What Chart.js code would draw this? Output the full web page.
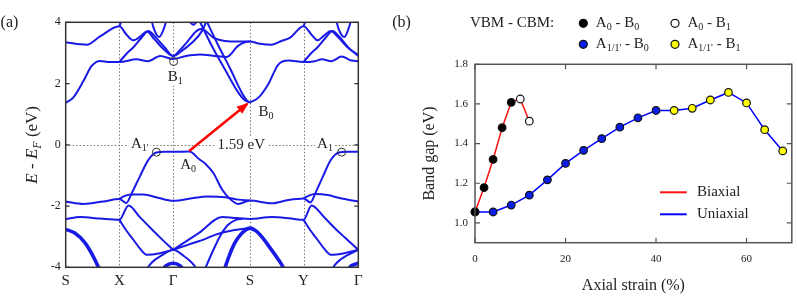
<!DOCTYPE html>
<html>
<head>
<meta charset="utf-8">
<script src="https://cdn.jsdelivr.net/npm/chart.js@4.4.0/dist/chart.umd.min.js"></script>
<style>
  html, body { margin: 0; padding: 0; background: #fff; }
  #wrap { position: relative; width: 797px; height: 301px; }
  #wrap canvas { position: absolute; left: 0; top: 0; }
</style>
</head>
<body>
<div id="wrap">
  <canvas id="bands" width="797" height="301"></canvas>
  <canvas id="gap" width="797" height="301"></canvas>
</div>
<script>
// ---------- panel (a): band structure, k along the path, E - E_F in eV ----------
const kPathTicks = [0, 1, 2, 3.43, 4.43, 5.45];
const kPathLabels = ['S', 'X', 'Γ', 'S', 'Y', 'Γ'];
const energyTicks = [-4, -2, 0, 2, 4];

// valence bands
const vbUpper = [[0,-1.85],[0.33,-1.93],[0.7,-1.85],[1.0,-1.77],[1.13,-1.9],[1.23,-1.58],[1.38,-1.04],[1.54,-0.49],[1.69,-0.25],[1.85,-0.23],[2.0,-0.23],[2.3,-0.22],[2.5,-0.49],[2.59,-0.6],[2.75,-0.92],[2.91,-1.45],[3.05,-1.75],[3.21,-1.93],[3.43,-1.82],[3.84,-1.91],[4.15,-1.8],[4.43,-1.75],[4.56,-1.88],[4.65,-1.58],[4.79,-1.04],[4.94,-0.49],[5.09,-0.25],[5.25,-0.23],[5.45,-0.23]];
const vbFlat = [[1.0,-1.77],[1.1,-1.67],[1.22,-1.62],[1.45,-1.62],[1.7,-1.72],[2.0,-1.83],[2.38,-1.74],[2.63,-1.69],[2.97,-1.71],[3.21,-1.79],[3.43,-1.82]];
const vbFlatR = [[4.43,-1.75],[4.53,-1.66],[4.64,-1.61],[4.88,-1.64],[5.1,-1.74],[5.45,-1.85]];
const vbLow = [[0,-2.43],[0.27,-2.36],[0.64,-2.41],[1.0,-2.45],[1.17,-1.98],[1.38,-2.36],[1.57,-2.7],[1.76,-3.03],[2.0,-3.43]];
const vbLowR = [[2.0,-3.43],[2.47,-2.89],[2.92,-2.36],[3.1,-2.38],[3.28,-2.41],[3.43,-2.42],[3.84,-2.36],[4.2,-2.41],[4.43,-2.45],[4.58,-1.98],[4.81,-2.36],[5.0,-2.7],[5.2,-3.03],[5.45,-3.43]];
const vbDiag = [[1.0,-2.45],[1.13,-2.8],[1.26,-3.1],[1.38,-3.38],[1.51,-3.59],[1.76,-3.54],[2.0,-3.43]];
const vbDiagR = [[4.43,-2.45],[4.56,-2.8],[4.69,-3.1],[4.81,-3.38],[4.94,-3.59],[5.19,-3.54],[5.45,-3.43]];
const vbLineB = [[2.0,-3.43],[2.3,-3.25],[2.59,-3.08],[2.78,-2.94],[3.1,-2.8],[3.43,-2.72]];
const vbCross = [[1.45,-4.2],[1.6,-3.85],[1.8,-3.6],[2.0,-3.43],[2.2,-3.63],[2.35,-3.85],[2.5,-4.2]];
const vbCrossR = [[4.9,-4.2],[5.05,-3.85],[5.25,-3.6],[5.45,-3.43]];
const vbRise = [[2.56,-4.2],[2.72,-3.55],[2.87,-3.0],[3.02,-2.62],[3.17,-2.45],[3.3,-2.41]];
// heavy valence bands
const vbHeavyS = [[0,-2.76],[0.17,-2.88],[0.36,-3.2],[0.49,-3.57],[0.61,-4.0],[0.68,-4.3]];
const vbHeavyMid = [[2.9,-4.4],[2.97,-4.0],[3.05,-3.6],[3.15,-3.2],[3.25,-2.95],[3.35,-2.78],[3.43,-2.72],[3.55,-2.82],[3.65,-3.0],[3.8,-3.35],[3.95,-3.72],[4.05,-4.0],[4.12,-4.3]];
const vbHeavyG = [[1.75,-4.2],[1.87,-3.95],[2.0,-3.87],[2.13,-3.95],[2.25,-4.2]];
const vbHeavyGR = [[5.2,-4.2],[5.32,-3.95],[5.45,-3.87]];

// conduction bands
const cbLow = [[0,1.37],[0.14,1.54],[0.33,2.08],[0.48,2.57],[0.64,2.74],[0.82,2.7],[1.0,2.7],[1.32,2.79],[1.53,2.73],[1.76,2.9],[2.0,2.8],[2.24,2.9],[2.5,2.95],[2.78,2.9],[3.0,2.87],[3.21,3.23],[3.43,3.37],[3.62,3.3],[3.84,3.27],[4.02,3.39],[4.18,3.5],[4.43,3.87],[4.6,3.55],[4.69,3.41],[4.8,3.55],[4.94,3.72],[5.08,3.5],[5.27,3.15],[5.45,2.94]];
const cbMid = [[0,3.35],[0.39,3.27],[0.64,3.54],[1.0,3.87],[1.13,3.6],[1.26,3.41],[1.4,3.55],[1.51,3.7],[1.65,3.45],[1.82,3.13],[2.0,2.9],[2.15,3.05],[2.35,3.33],[2.54,3.72],[2.66,4.2]];
const cbBeta = [[1.0,2.7],[1.12,2.95],[1.27,3.2],[1.4,3.47],[1.54,3.72],[1.68,3.5],[1.85,3.17],[2.0,2.9],[2.13,3.1],[2.25,3.33],[2.44,3.72],[2.52,3.78],[2.59,3.74],[2.75,3.5],[2.97,3.39],[3.2,3.37],[3.43,3.37]];
const cbBetaR = [[4.43,2.7],[4.55,2.95],[4.7,3.2],[4.83,3.47],[4.97,3.72],[5.1,3.52],[5.28,3.15],[5.45,2.9]];
const cbMin = [[3.43,1.38],[3.59,1.54],[3.77,1.97],[3.96,2.62],[4.15,2.75],[4.43,2.7],[4.64,2.73],[4.77,2.79],[4.95,2.73],[5.14,2.88],[5.32,2.75],[5.45,2.73]];
const cbSteep1 = [[2.45,4.2],[2.73,3.2],[2.97,2.45],[3.21,1.72],[3.33,1.46],[3.43,1.38]];
const cbSteep2 = [[2.58,4.2],[2.84,3.25],[3.06,2.5],[3.28,1.7],[3.37,1.46],[3.43,1.38]];
const cbBowl = [[1.57,4.3],[1.64,3.8],[1.74,3.52],[1.83,3.8],[1.91,4.3]];
const cbBowlR = [[5.01,4.3],[5.08,3.8],[5.19,3.52],[5.27,3.8],[5.35,4.3]];
const cbVee = [[2.24,4.2],[2.38,3.92],[2.5,4.2]];
const cbExitX = [[1.0,3.87],[1.09,4.3]];
const cbExitY = [[4.43,3.87],[4.52,4.3]];

const thinBands = [vbUpper, vbFlat, vbFlatR, vbLow, vbLowR, vbDiag, vbDiagR, vbLineB, vbCross, vbCrossR, vbRise,
  cbLow, cbMid, cbBeta, cbBetaR, cbMin, cbSteep1, cbSteep2, cbBowl, cbBowlR, cbVee, cbExitX, cbExitY];
const heavyBands = [vbHeavyS, vbHeavyMid, vbHeavyG, vbHeavyGR];

// band edges marked with circles, and the A0 -> B0 transition
const edgeK = [1.69, 5.14, 2.01];
const edgeE = [-0.24, -0.24, 2.72];
const arrowK = [2.3, 3.38];
const arrowE = [-0.2, 1.33];
const bandNotes = [
  { text: "A_{1'}", k: 1.38, e: 0.03, box: true },
  { text: 'A_{1}', k: 4.83, e: 0.03, box: true },
  { text: '1.59 eV', k: 3.27, e: 0.0, box: true },
  { text: 'A_{0}', k: 2.28, e: -0.65, box: false },
  { text: 'B_{0}', k: 3.73, e: 1.08, box: false },
  { text: 'B_{1}', k: 2.04, e: 2.22, box: true },
];

// ---------- panel (b): band gap vs axial strain ----------
const strainTicks = [0, 20, 40, 60];
const gapTicks = [1.0, 1.2, 1.4, 1.6, 1.8];
const biaxialStrain = [0, 2, 4, 6, 8, 10, 12];
const biaxialGap = [1.055, 1.178, 1.32, 1.48, 1.608, 1.625, 1.513];
const biaxialEdges = ['A0B0', 'A0B0', 'A0B0', 'A0B0', 'A0B0', 'A0B1', 'A0B1'];
const uniaxialStrain = [0, 4, 8, 12, 16, 20, 24, 28, 32, 36, 40, 44, 48, 52, 56, 60, 64, 68];
const uniaxialGap = [1.055, 1.055, 1.09, 1.14, 1.217, 1.30, 1.366, 1.425, 1.483, 1.53, 1.567, 1.567, 1.578, 1.62, 1.658, 1.605, 1.47, 1.363];
const uniaxialEdges = ['A0B0', 'A1B0', 'A1B0', 'A1B0', 'A1B0', 'A1B0', 'A1B0', 'A1B0', 'A1B0', 'A1B0', 'A1B0',
  'A1B1', 'A1B1', 'A1B1', 'A1B1', 'A1B1', 'A1B1', 'A1B1'];
const edgeKinds = ['A0B0', 'A0B1', 'A1B0', 'A1B1'];
const edgeKindLabels = ['A_{0} - B_{0}', 'A_{0} - B_{1}', "A_{1/1'} - B_{0}", "A_{1/1'} - B_{1}"];

const SERIF = '"Liberation Serif", "Times New Roman", serif';
const INK = '#222';
const BAND_BLUE = '#1a1ae6';
const edgeFill = { A0B0: '#000000', A0B1: '#ffffff', A1B0: '#0a1ee8', A1B1: '#ffff00' };

const toXY = pairs => pairs.map(p => ({ x: p[0], y: p[1] }));

// 'A_{0} - B_{1}' -> [[text, isSub], ...]
function parseRich(str) {
  const parts = [];
  const re = /_\{([^}]*)\}/g;
  let last = 0, m;
  while ((m = re.exec(str))) {
    if (m.index > last) parts.push([str.slice(last, m.index), false]);
    parts.push([m[1], true]);
    last = re.lastIndex;
  }
  if (last < str.length) parts.push([str.slice(last), false]);
  return parts;
}

function richFont(p, size) {
  return (p[2] ? 'italic ' : '') + (p[1] ? Math.round(size * 0.68) : size) + 'px ' + SERIF;
}

function measureRich(ctx, parts, size) {
  return parts.reduce((w, p) => { ctx.font = richFont(p, size); return w + ctx.measureText(p[0]).width; }, 0);
}

function drawRich(ctx, parts, x, y, size, align) {
  const total = measureRich(ctx, parts, size);
  let cx = align === 'center' ? x - total / 2 : x;
  ctx.textBaseline = 'middle';
  ctx.textAlign = 'left';
  parts.forEach(p => {
    ctx.font = richFont(p, size);
    ctx.fillText(p[0], cx, p[1] ? y + size * 0.3 : y);
    cx += ctx.measureText(p[0]).width;
  });
  return total;
}

function drawBox(ctx, a, color, width) {
  ctx.save();
  ctx.strokeStyle = color;
  ctx.lineWidth = width;
  ctx.strokeRect(a.left, a.top, a.right - a.left, a.bottom - a.top);
  ctx.restore();
}

const bandDecor = {
  id: 'bandDecor',
  beforeDatasetsDraw(chart) {
    const { ctx, chartArea: a, scales: { x, y } } = chart;
    ctx.save();
    // dotted guide lines at the high-symmetry points and at E_F
    ctx.strokeStyle = '#777';
    ctx.lineWidth = 1;
    ctx.setLineDash([1.5, 2]);
    kPathTicks.slice(1, -1).forEach(k => {
      const px = Math.round(x.getPixelForValue(k)) + 0.5;
      ctx.beginPath(); ctx.moveTo(px, a.top); ctx.lineTo(px, a.bottom); ctx.stroke();
    });
    const py = Math.round(y.getPixelForValue(0)) + 0.5;
    ctx.beginPath(); ctx.moveTo(a.left, py); ctx.lineTo(a.right, py); ctx.stroke();
    ctx.setLineDash([]);

    bandNotes.forEach(n => {
      const parts = parseRich(n.text);
      const cx = x.getPixelForValue(n.k), cy = y.getPixelForValue(n.e);
      if (n.box) {
        const w = measureRich(ctx, parts, 15);
        ctx.fillStyle = '#fff';
        ctx.fillRect(cx - w / 2 - 2, cy - 8, w + 4, 17);
      }
      ctx.fillStyle = INK;
      drawRich(ctx, parts, cx, cy, 15, 'center');
    });
    ctx.restore();
  },
  afterDatasetsDraw(chart) {
    const { ctx, scales: { x, y } } = chart;
    const x0 = x.getPixelForValue(arrowK[0]), y0 = y.getPixelForValue(arrowE[0]);
    const x1 = x.getPixelForValue(arrowK[1]), y1 = y.getPixelForValue(arrowE[1]);
    const ang = Math.atan2(y1 - y0, x1 - x0);
    ctx.save();
    ctx.translate(x1, y1);
    ctx.rotate(ang);
    ctx.fillStyle = '#ff0000';
    ctx.beginPath();
    ctx.moveTo(2, 0); ctx.lineTo(-10, -4.5); ctx.lineTo(-10, 4.5); ctx.closePath();
    ctx.fill();
    ctx.restore();
  },
  afterDraw(chart) {
    const { ctx, chartArea: a, scales: { y } } = chart;
    drawBox(ctx, a, '#333', 1.5);
    ctx.save();
    ctx.strokeStyle = '#333';
    ctx.lineWidth = 1.2;
    energyTicks.forEach(e => {
      const py = y.getPixelForValue(e);
      ctx.beginPath();
      ctx.moveTo(a.left, py); ctx.lineTo(a.left + 4, py);
      ctx.moveTo(a.right, py); ctx.lineTo(a.right - 4, py);
      ctx.stroke();
    });
    // axis title E - E_F (eV)
    ctx.fillStyle = INK;
    ctx.translate(a.left - 33, (a.top + a.bottom) / 2);
    ctx.rotate(-Math.PI / 2);
    drawRich(ctx, [['E', false, true], [' - ', false], ['E', false, true], ['F', true, true], [' (eV)', false]], 0, 0, 17, 'center');
    ctx.restore();
    ctx.save();
    ctx.fillStyle = INK;
    drawRich(ctx, [['(a)', false]], 9.5, 23, 16, 'center');
    ctx.restore();
  }
};

const bandSets = [
  { data: toXY(arrowK.map((k, i) => [k, arrowE[i]])), borderColor: '#ff0000', borderWidth: 2.5, pointRadius: 0, showLine: true },
  { data: toXY(edgeK.map((k, i) => [k, edgeE[i]])), pointRadius: 4, pointBorderWidth: 1, pointBorderColor: '#333',
    pointBackgroundColor: 'rgba(0,0,0,0)', showLine: false },
  ...thinBands.map(b => ({ data: toXY(b), borderColor: BAND_BLUE, borderWidth: 2, pointRadius: 0,
    showLine: true, cubicInterpolationMode: 'monotone' })),
  ...heavyBands.map(b => ({ data: toXY(b), borderColor: BAND_BLUE, borderWidth: 3.6, pointRadius: 0,
    showLine: true, cubicInterpolationMode: 'monotone' })),
];

new Chart(document.getElementById('bands'), {
  type: 'scatter',
  data: { datasets: bandSets },
  options: {
    responsive: false,
    animation: false,
    devicePixelRatio: 1,
    events: [],
    layout: { padding: { left: 0, top: 22.3, right: 797 - 358.3, bottom: 0 } },
    plugins: { legend: { display: false }, tooltip: { enabled: false } },
    scales: {
      x: {
        type: 'linear', min: 0, max: 5.45,
        grid: { display: false, drawTicks: false },
        border: { display: false },
        afterBuildTicks: s => { s.ticks = kPathTicks.map(v => ({ value: v })); },
        afterFit: s => { s.height = 301 - 267.3; },
        ticks: {
          autoSkip: false, maxRotation: 0, padding: 5, color: INK,
          font: { family: SERIF, size: 15 },
          callback: (v, i) => kPathLabels[i]
        }
      },
      y: {
        type: 'linear', min: -4, max: 4,
        grid: { display: false, drawTicks: false },
        border: { display: false },
        afterBuildTicks: s => { s.ticks = energyTicks.map(v => ({ value: v })); },
        afterFit: s => { s.width = 65.7; },
        ticks: { padding: 5, color: INK, font: { family: SERIF, size: 12 }, callback: v => String(v) }
      }
    }
  },
  plugins: [bandDecor]
});

// ---------- panel (b) ----------
const gapDecor = {
  id: 'gapDecor',
  afterDraw(chart) {
    const { ctx, chartArea: a, scales: { x, y } } = chart;
    drawBox(ctx, a, '#555', 1.5);
    ctx.save();
    ctx.strokeStyle = '#555';
    ctx.lineWidth = 1.2;
    gapTicks.forEach(g => {
      const py = y.getPixelForValue(g);
      ctx.beginPath();
      ctx.moveTo(a.left, py); ctx.lineTo(a.left + 5, py);
      ctx.moveTo(a.right, py); ctx.lineTo(a.right - 5, py);
      ctx.stroke();
    });
    strainTicks.forEach(s => {
      const px = x.getPixelForValue(s);
      ctx.beginPath();
      ctx.moveTo(px, a.top); ctx.lineTo(px, a.top + 5);
      ctx.moveTo(px, a.bottom); ctx.lineTo(px, a.bottom - 5);
      ctx.stroke();
    });

    // VBM - CBM key above the plot
    ctx.fillStyle = INK;
    drawRich(ctx, [['VBM - CBM:', false]], a.left - 5, 23, 15, 'left');
    edgeKinds.forEach((kind, i) => {
      const mx = a.left + (i % 2 === 0 ? 108.3 : 200);
      const my = i < 2 ? 23.3 : 44.3;
      ctx.beginPath();
      ctx.arc(mx, my, 4, 0, Math.PI * 2);
      ctx.fillStyle = edgeFill[kind];
      ctx.fill();
      ctx.lineWidth = 1.2;
      ctx.strokeStyle = '#111';
      ctx.stroke();
      ctx.fillStyle = INK;
      drawRich(ctx, parseRich(edgeKindLabels[i]), mx + 12.5, my, 15, 'left');
    });

    // strain-type key inside the plot
    [['Biaxial', '#ff1010'], ['Uniaxial', '#0000ff']].forEach(([name, color], i) => {
      const ly = a.top + 128 + i * 22;
      ctx.strokeStyle = color;
      ctx.lineWidth = 2;
      ctx.beginPath(); ctx.moveTo(a.left + 185, ly); ctx.lineTo(a.left + 211.7, ly); ctx.stroke();
      ctx.fillStyle = INK;
      drawRich(ctx, [[name, false]], a.left + 222, ly, 15, 'left');
    });
    drawRich(ctx, [['(b)', false]], 401.5, 23, 16, 'center');
    ctx.restore();
  }
};

new Chart(document.getElementById('gap'), {
  type: 'scatter',
  data: {
    datasets: [
      {
        label: 'Biaxial',
        data: biaxialStrain.map((s, i) => ({ x: s, y: biaxialGap[i] })),
        showLine: true, borderColor: '#ff1010', borderWidth: 1.5, clip: false,
        pointRadius: 3.8, pointBorderWidth: 1.2, pointBorderColor: '#111',
        pointBackgroundColor: biaxialEdges.map(t => edgeFill[t])
      },
      {
        label: 'Uniaxial',
        data: uniaxialStrain.map((s, i) => ({ x: s, y: uniaxialGap[i] })),
        showLine: true, borderColor: '#0000ff', borderWidth: 1.5, clip: false,
        pointRadius: 3.8, pointBorderWidth: 1.2, pointBorderColor: '#111',
        pointBackgroundColor: uniaxialEdges.map(t => edgeFill[t])
      }
    ]
  },
  options: {
    responsive: false,
    animation: false,
    devicePixelRatio: 1,
    events: [],
    layout: { padding: { left: 400, top: 64.3, right: 1.3, bottom: 0 } },
    plugins: { legend: { display: false }, tooltip: { enabled: false } },
    scales: {
      x: {
        type: 'linear', min: 0, max: 70,
        grid: { display: false, drawTicks: false },
        border: { display: false },
        afterBuildTicks: s => { s.ticks = strainTicks.map(v => ({ value: v })); },
        afterFit: s => { s.height = 301 - 242.7; },
        ticks: { autoSkip: false, maxRotation: 0, padding: 10, color: INK, font: { family: SERIF, size: 11 } },
        title: { display: true, text: 'Axial strain (%)', color: INK, font: { family: SERIF, size: 16 }, padding: { top: 0, bottom: 6 } }
      },
      y: {
        type: 'linear', min: 0.9, max: 1.8,
        grid: { display: false, drawTicks: false },
        border: { display: false },
        afterBuildTicks: s => { s.ticks = gapTicks.map(v => ({ value: v })); },
        afterFit: s => { s.width = 75; },
        ticks: { padding: 7, color: INK, font: { family: SERIF, size: 11 }, callback: v => v.toFixed(1) },
        title: { display: true, text: 'Band gap (eV)', color: INK, font: { family: SERIF, size: 16 }, padding: { top: 20, bottom: 0 } }
      }
    }
  },
  plugins: [gapDecor]
});
</script>
</body>
</html>
